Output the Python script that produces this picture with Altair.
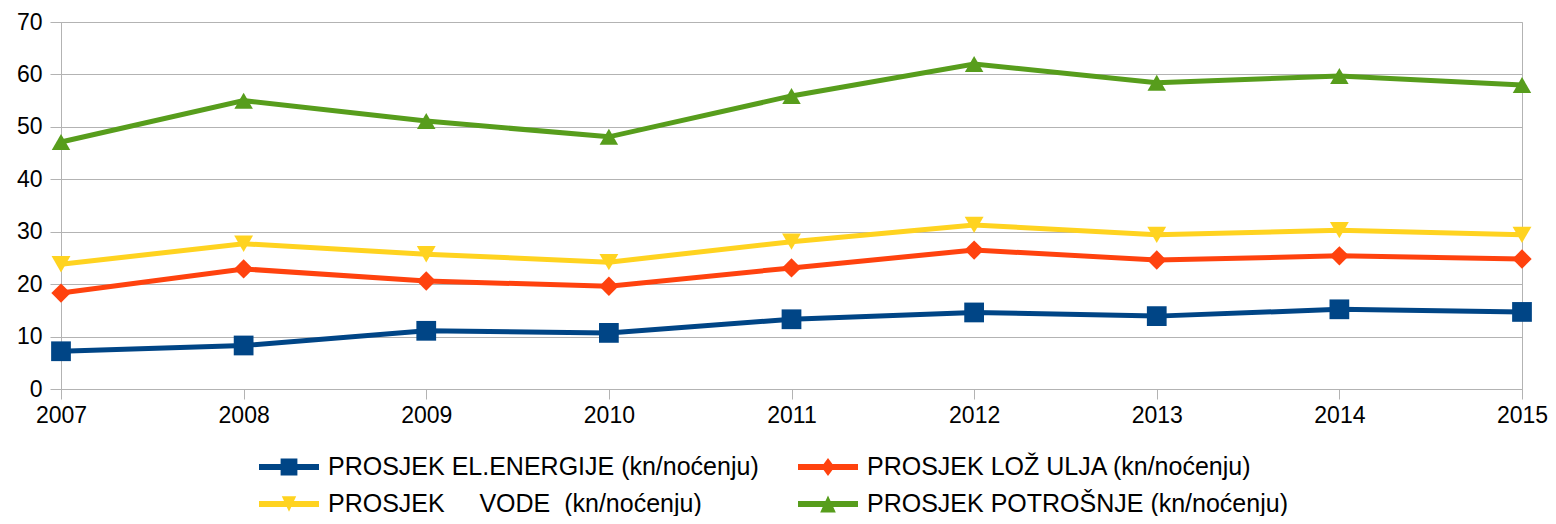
import altair as alt
import pandas as pd

years = [2007, 2008, 2009, 2010, 2011, 2012, 2013, 2014, 2015]
el_energija = [7.2, 8.3, 11.1, 10.7, 13.3, 14.6, 13.9, 15.2, 14.7]
loz_ulje = [18.3, 22.9, 20.6, 19.6, 23.1, 26.5, 24.6, 25.4, 24.8]
voda = [23.8, 27.7, 25.7, 24.2, 28.1, 31.3, 29.4, 30.3, 29.4]
potrosnja = [47.1, 55.0, 51.1, 48.1, 55.9, 62.0, 58.4, 59.7, 58.0]

series = [
    "PROSJEK EL.ENERGIJE (kn/noćenju)",
    "PROSJEK LOŽ ULJA (kn/noćenju)",
    "PROSJEK" + "\u00a0" * 5 + "VODE" + "\u00a0" * 2 + "(kn/noćenju)",
    "PROSJEK POTROŠNJE (kn/noćenju)",
]
colors = ["#004586", "#ff420e", "#ffd320", "#579d1c"]
shapes = ["square", "diamond", "triangle-down", "triangle-up"]
sizes = [390, 340, 430, 430]

rows = []
for name, vals in zip(series, [el_energija, loz_ulje, voda, potrosnja]):
    for y, v in zip(years, vals):
        rows.append({"year": y, "value": v, "series": name})
df = pd.DataFrame(rows)

# legend symbols: line + marker, in the [-1, 1] box (all drawn clockwise)
bar = "M-1,-0.1H1V0.1H-1Z"
legend_paths = [
    bar + "M-0.28,-0.28H0.28V0.28H-0.28Z",
    bar + "M0,-0.3L0.22,0L0,0.3L-0.22,0Z",
    bar + "M-0.24,-0.26L0.24,-0.26L0,0.26Z",
    bar + "M-0.26,0.28L0,-0.28L0.26,0.28Z",
]

x_enc = alt.X(
    "year:Q",
    scale=alt.Scale(domain=[2007, 2015], nice=False, zero=False),
    axis=alt.Axis(values=years, format="d", title=None, grid=False, tickSize=10,
                  labelPadding=5, labelFlush=False, tickColor="#b3b3b3",
                  domainColor="#b3b3b3"),
)
y_enc = alt.Y(
    "value:Q",
    scale=alt.Scale(domain=[0, 70], nice=False),
    axis=alt.Axis(values=list(range(0, 71, 10)), title=None, grid=True, gridColor="#b3b3b3",
                  tickSize=11, labelPadding=8, tickColor="#b3b3b3", domainColor="#b3b3b3"),
)

lines = alt.Chart(df).mark_line(strokeWidth=5).encode(
    x=x_enc,
    y=y_enc,
    stroke=alt.Stroke("series:N", scale=alt.Scale(domain=series, range=colors), legend=None),
    detail="series:N",
)

points = alt.Chart(df).mark_point(filled=True, opacity=1, strokeWidth=0).encode(
    x="year:Q",
    y="value:Q",
    fill=alt.Fill("series:N", scale=alt.Scale(domain=series, range=colors), legend=None),
    shape=alt.Shape("series:N", scale=alt.Scale(domain=series, range=shapes), legend=None),
    size=alt.Size("series:N", scale=alt.Scale(domain=series, range=sizes), legend=None),
)

legend_props = dict(
    title=None,
    orient="none",
    direction="horizontal",
    legendX=198,
    legendY=433,
    columns=2,
    padding=0,
    symbolSize=3600,
    symbolStrokeWidth=0,
    symbolOpacity=1,
    labelFont="Liberation Sans",
    labelFontSize=25,
    labelColor="#000000",
    labelOffset=9,
    labelLimit=800,
    columnPadding=39,
    rowPadding=12,
    clipHeight=24,
)

legend_layer = alt.Chart(df).transform_filter("datum.value < -1000").mark_point(
    filled=True, opacity=1
).encode(
    x="year:Q",
    y="value:Q",
    color=alt.Color("series:N", scale=alt.Scale(domain=series, range=colors),
                    legend=alt.Legend(**legend_props)),
    shape=alt.Shape("series:N", scale=alt.Scale(domain=series, range=legend_paths),
                    legend=alt.Legend(**legend_props)),
)

chart = (
    alt.layer(lines, points, legend_layer)
    .resolve_scale(shape="independent", color="independent")
    .properties(
        width=1461,
        height=367,
        autosize=alt.AutoSizeParams(type="none"),
        padding={"left": 53, "top": 14, "right": 26, "bottom": 127},
    )
    .configure_view(stroke="#b3b3b3", strokeWidth=1)
    .configure_axis(labelFont="Liberation Sans", labelFontSize=23, labelColor="#000000")
)

chart.save("out.html", embed_options={"renderer": "svg", "actions": False})
